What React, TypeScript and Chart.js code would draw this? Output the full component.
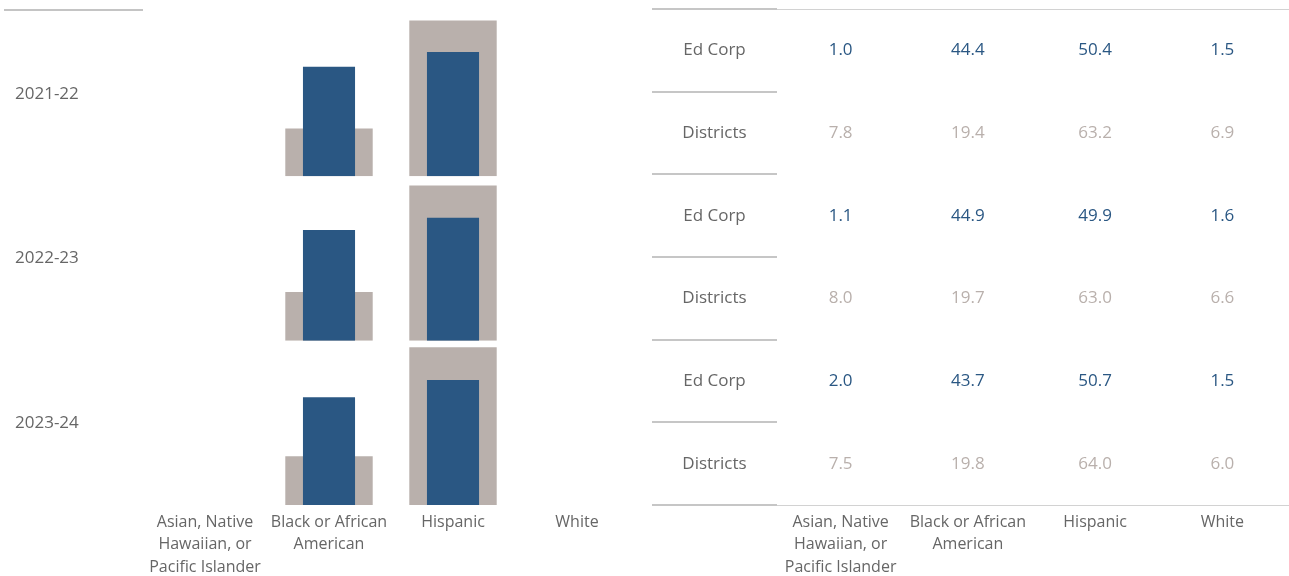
import React, { useEffect, useRef } from 'react';
import { Chart, registerables } from 'chart.js';

Chart.register(...registerables);

// ---------- data ----------
const categories = [
  'Asian, Native Hawaiian, or Pacific Islander',
  'Black or African American',
  'Hispanic',
  'White',
];
const categoryTickLines = [
  ['Asian, Native', 'Hawaiian, or', 'Pacific Islander'],
  ['Black or African', 'American'],
  ['Hispanic'],
  ['White'],
];
const years = ['2021-22', '2022-23', '2023-24'];
const groups = ['Ed Corp', 'Districts'];

const edCorp2122 = [1.0, 44.4, 50.4, 1.5];
const districts2122 = [7.8, 19.4, 63.2, 6.9];
const edCorp2223 = [1.1, 44.9, 49.9, 1.6];
const districts2223 = [8.0, 19.7, 63.0, 6.6];
const edCorp2324 = [2.0, 43.7, 50.7, 1.5];
const districts2324 = [7.5, 19.8, 64.0, 6.0];

const edCorpByYear = [edCorp2122, edCorp2223, edCorp2324];
const districtsByYear = [districts2122, districts2223, districts2324];

// categories whose bars appear in the bar panel of the source view
const barShown = [false, true, true, false];
const valueAxisMax = 66.7;

// ---------- styles ----------
const BLUE = '#2a5783';
const GRAY = '#b9b0ac';
const TEXT = '#666666';
const FONT_FAMILY = '"Open Sans", sans-serif';
const FONT_SIZE = 16;
const NUM_FONT_SIZE = 17;

export default function App() {
  const leftRef = useRef<HTMLCanvasElement | null>(null);
  const rightRef = useRef<HTMLCanvasElement | null>(null);

  useEffect(() => {
    if (!leftRef.current || !rightRef.current) return;
    const font = { family: FONT_FAMILY, size: FONT_SIZE, lineHeight: 1.4 };
    const numFont = { family: FONT_FAMILY, size: NUM_FONT_SIZE, lineHeight: 1.4 };

    // ----- left: bar panel -----
    const barDatasets: any[] = [];
    years.forEach((yr, i) => {
      barDatasets.push({
        label: `Ed Corp ${yr}`,
        data: edCorpByYear[i].map((v, j) => (barShown[j] ? v : null)),
        backgroundColor: BLUE,
        yAxisID: `y${i}`,
        xAxisID: 'x',
        grouped: false,
        categoryPercentage: 1,
        barPercentage: 0.42,
        order: 0,
      });
      barDatasets.push({
        label: `Districts ${yr}`,
        data: districtsByYear[i].map((v, j) => (barShown[j] ? v : null)),
        backgroundColor: GRAY,
        yAxisID: `y${i}`,
        xAxisID: 'x',
        grouped: false,
        categoryPercentage: 1,
        barPercentage: 0.705,
        order: 1,
      });
    });

    const valueAxes: any = {};
    years.forEach((_, i) => {
      valueAxes[`y${i}`] = {
        type: 'linear',
        position: 'left',
        stack: 'years',
        stackWeight: 1,
        weight: 3 - i,
        min: 0,
        max: valueAxisMax,
        display: false,
      };
    });

    const leftLines = {
      id: 'leftLines',
      afterDraw(chart: any) {
        const ctx = chart.ctx;
        const rows = chart.scales.rows;
        ctx.save();
        ctx.strokeStyle = '#c4c4c4';
        ctx.lineWidth = 2;
        ctx.beginPath();
        ctx.moveTo(4, chart.chartArea.top - 2);
        ctx.lineTo(rows.right, chart.chartArea.top - 2);
        ctx.stroke();
        ctx.restore();
      },
    };

    const left = new Chart(leftRef.current, {
      type: 'bar',
      data: { labels: categories, datasets: barDatasets },
      options: {
        animation: false,
        responsive: false,
        events: [],
        layout: { padding: { top: 10, left: 15, right: 6, bottom: 0 } },
        plugins: { legend: { display: false }, tooltip: { enabled: false } },
        scales: {
          x: {
            type: 'category',
            position: 'bottom',
            offset: true,
            grid: { display: false, drawTicks: false },
            border: { display: false },
            ticks: {
              autoSkip: false,
              maxRotation: 0,
              padding: 6,
              color: TEXT,
              font,
              callback: (_v: any, i: number) => categoryTickLines[i],
            },
            afterFit: (s: any) => { s.height = 71; },
          },
          rows: {
            type: 'category',
            position: 'left',
            labels: years,
            offset: true,
            weight: 10,
            grid: { display: false, drawTicks: false },
            border: { display: false },
            ticks: { crossAlign: 'far', color: TEXT, font: numFont, padding: 0 },
            afterFit: (s: any) => { s.width = 128; },
          },
          ...valueAxes,
        },
      } as any,
      plugins: [leftLines],
    });

    // ----- right: value table -----
    const rowKeys = years.flatMap((y) => groups.map((g) => `${y} ${g}`));
    const tableDatasets = groups.map((g, gi) => ({
      label: g,
      borderColor: gi === 0 ? BLUE : GRAY,
      backgroundColor: gi === 0 ? BLUE : GRAY,
      pointRadius: 0,
      pointHoverRadius: 0,
      data: years.flatMap((y, yi) =>
        categories.map((c, ci) => ({
          x: c,
          y: `${y} ${g}`,
          v: (gi === 0 ? edCorpByYear : districtsByYear)[yi][ci],
        }))
      ),
    }));

    const measure = document.createElement('canvas').getContext('2d')!;
    measure.font = `${NUM_FONT_SIZE}px ${FONT_FAMILY}`;
    const widest = Math.max(...groups.map((g) => measure.measureText(g).width));
    const headerWidth = 125;

    const tablePlugin = {
      id: 'tableText',
      afterDatasetsDraw(chart: any) {
        const ctx = chart.ctx;
        ctx.save();
        ctx.font = `${NUM_FONT_SIZE}px ${FONT_FAMILY}`;
        ctx.textAlign = 'center';
        ctx.textBaseline = 'middle';
        chart.data.datasets.forEach((ds: any, di: number) => {
          const meta = chart.getDatasetMeta(di);
          ctx.fillStyle = ds.borderColor;
          meta.data.forEach((pt: any, j: number) => {
            ctx.fillText(ds.data[j].v.toFixed(1), pt.x, pt.y);
          });
        });
        ctx.restore();
      },
      afterDraw(chart: any) {
        const ctx = chart.ctx;
        const y = chart.scales.y;
        ctx.save();
        for (let k = 0; k <= rowKeys.length; k++) {
          const py = Math.round(y.getPixelForValue(k - 0.5));
          ctx.strokeStyle = '#c6c6c6';
          ctx.lineWidth = 2;
          ctx.beginPath();
          ctx.moveTo(y.left, py);
          ctx.lineTo(y.right, py);
          ctx.stroke();
          if (k === 0 || k === rowKeys.length) {
            ctx.strokeStyle = '#d2d2d2';
            ctx.lineWidth = 1;
            ctx.beginPath();
            ctx.moveTo(y.right, py + 0.5);
            ctx.lineTo(chart.width, py + 0.5);
            ctx.stroke();
          }
        }
        ctx.restore();
      },
    };

    const right = new Chart(rightRef.current, {
      type: 'scatter',
      data: { datasets: tableDatasets },
      options: {
        animation: false,
        responsive: false,
        events: [],
        layout: { padding: { top: 9, left: 7, right: 3, bottom: 0 } },
        plugins: { legend: { display: false }, tooltip: { enabled: false } },
        scales: {
          x: {
            type: 'category',
            labels: categories,
            position: 'bottom',
            offset: true,
            grid: { display: false, drawTicks: false },
            border: { display: false },
            ticks: {
              autoSkip: false,
              maxRotation: 0,
              padding: 6,
              color: TEXT,
              font,
              callback: (_v: any, i: number) => categoryTickLines[i],
            },
            afterFit: (s: any) => { s.height = 71; },
          },
          y: {
            type: 'category',
            labels: rowKeys,
            position: 'left',
            offset: true,
            grid: { display: false, drawTicks: false },
            border: { display: false },
            ticks: {
              autoSkip: false,
              crossAlign: 'center',
              padding: headerWidth / 2 - widest / 2,
              color: TEXT,
              font: numFont,
              callback: (_v: any, i: number) => groups[i % groups.length],
            },
            afterFit: (s: any) => {
              s.width = headerWidth;
              s.paddingTop = 0;
              s.paddingBottom = 0;
            },
          },
        },
      } as any,
      plugins: [tablePlugin],
    });

    return () => {
      left.destroy();
      right.destroy();
    };
  }, []);

  return (
    <div style={{ position: 'fixed', left: 0, top: 0, width: 1289, height: 576, background: '#ffffff' }}>
      <canvas
        ref={leftRef}
        width={645}
        height={576}
        style={{ position: 'absolute', left: 0, top: 0, width: 645, height: 576 }}
      />
      <canvas
        ref={rightRef}
        width={644}
        height={576}
        style={{ position: 'absolute', left: 645, top: 0, width: 644, height: 576 }}
      />
    </div>
  );
}
